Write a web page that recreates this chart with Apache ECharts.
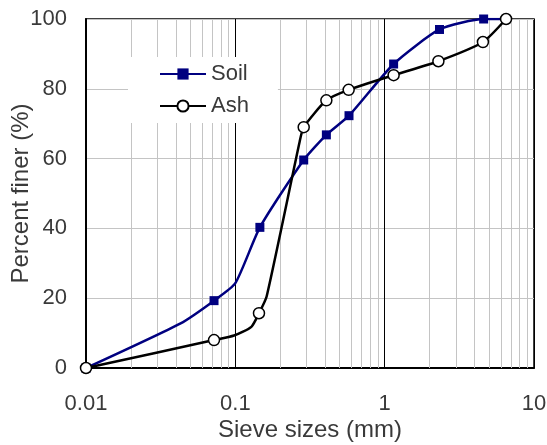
<!DOCTYPE html>
<html lang="en">
<head>
    <meta charset="UTF-8">
    <title>sieve</title>
    <script src="https://cdn.jsdelivr.net/npm/echarts@6/dist/echarts.min.js"></script>
    <style>
        body { margin: 0; background: #fff; }
    </style>
</head>
<body>
<div id="chart" style="width: 547px;height:445px;"></div>
<script type="text/javascript">

    // sieve size (mm), percent finer, marker shown (1) or not (0)
    var soilSize   = [0.01, 0.043, 0.072, 0.1, 0.146, 0.287, 0.407, 0.577, 1.148, 2.33, 4.6, 6.5];
    var soilFiner  = [0, 12.8, 19.3, 24.3, 40.3, 59.6, 66.8, 72.3, 87.1, 97.0, 100, 100];
    var soilMarked = [1, 0, 1, 0, 1, 1, 1, 1, 1, 1, 1, 0];

    var ashSize   = [0.01, 0.072, 0.098, 0.128, 0.144, 0.162, 0.27, 0.287, 0.407, 0.574, 1.148, 2.29, 4.55, 6.5];
    var ashFiner  = [0, 8.0, 9.3, 11.8, 15.7, 20.5, 65, 69.0, 76.7, 79.7, 83.9, 87.9, 93.4, 100];
    var ashMarked = [1, 1, 0, 0, 1, 0, 0, 1, 1, 1, 1, 1, 1, 1];

    var xTicks = [0.01, 0.1, 1, 10];
    var yTicks = [0, 20, 40, 60, 80, 100];

    var txt = '#3a3a3a';
    var font = 'Liberation Sans, Arial, sans-serif';

    // minor vertical gridlines 2..9 in each decade
    var minor = [];
    for (var d = 0; d < xTicks.length - 1; d++) {
        for (var k = 2; k <= 9; k++) {
            minor.push({xAxis: xTicks[d] * k});
        }
    }

    function pts(xs, ys, flags) {
        var out = [];
        for (var i = 0; i < xs.length; i++) {
            var p = {value: [xs[i], ys[i]]};
            if (!flags[i]) p.symbol = 'none';
            out.push(p);
        }
        return out;
    }

    var myChart = echarts.init(document.getElementById('chart'));
    var option = {
        animation: false,
        textStyle: {fontFamily: font},
        grid: {
            left: 86, right: 13, top: 19, bottom: 77,
            containLabel: false, outerBoundsMode: 'none',
            show: true, borderColor: '#000', borderWidth: 1.5
        },
        legend: {
            left: 128, top: 57,
            orient: 'vertical',
            backgroundColor: '#fff',
            padding: [6, 29, 6, 31],
            itemWidth: 46, itemHeight: 14, itemGap: 10,
            textStyle: {fontSize: 22, color: txt, fontFamily: font},
            data: ['Soil', 'Ash']
        },
        xAxis: {
            type: 'log', logBase: 10, min: xTicks[0], max: xTicks[xTicks.length - 1],
            name: 'Sieve sizes (mm)', nameLocation: 'middle', nameGap: 50,
            nameMoveOverlap: false,
            nameTextStyle: {fontSize: 24, color: txt},
            axisLine: {lineStyle: {color: '#000', width: 2}},
            axisTick: {show: false},
            axisLabel: {fontSize: 22, color: txt, margin: 25, formatter: function (v) { return String(v); }},
            splitLine: {show: true, lineStyle: {color: '#000', width: 1}}
        },
        yAxis: {
            type: 'value', min: yTicks[0], max: yTicks[yTicks.length - 1], interval: 20,
            name: 'Percent finer (%)', nameLocation: 'middle', nameGap: 53,
            nameMoveOverlap: false,
            nameTextStyle: {fontSize: 24, color: txt},
            axisLine: {show: true, lineStyle: {color: '#000', width: 2}},
            axisTick: {show: false},
            axisLabel: {fontSize: 22, color: txt, margin: 19},
            splitLine: {show: true, lineStyle: {color: '#c4c4c4', width: 1}}
        },
        series: [{
            name: 'Soil',
            type: 'line',
            smooth: 0.2,
            symbol: 'rect',
            symbolSize: 9,
            itemStyle: {color: '#000080'},
            lineStyle: {color: '#000080', width: 2.5},
            data: pts(soilSize, soilFiner, soilMarked),
            markLine: {
                silent: true, z: 1, symbol: ['none', 'none'],
                label: {show: false},
                lineStyle: {color: '#c4c4c4', width: 1, type: 'solid'},
                data: minor
            }
        }, {
            name: 'Ash',
            type: 'line',
            smooth: 0.2,
            symbol: 'circle',
            symbolSize: 11,
            itemStyle: {color: '#fff', borderColor: '#000', borderWidth: 1.5},
            lineStyle: {color: '#000', width: 2.5},
            data: pts(ashSize, ashFiner, ashMarked)
        }]
    };

    myChart.setOption(option);
</script>
</body>
</html>
